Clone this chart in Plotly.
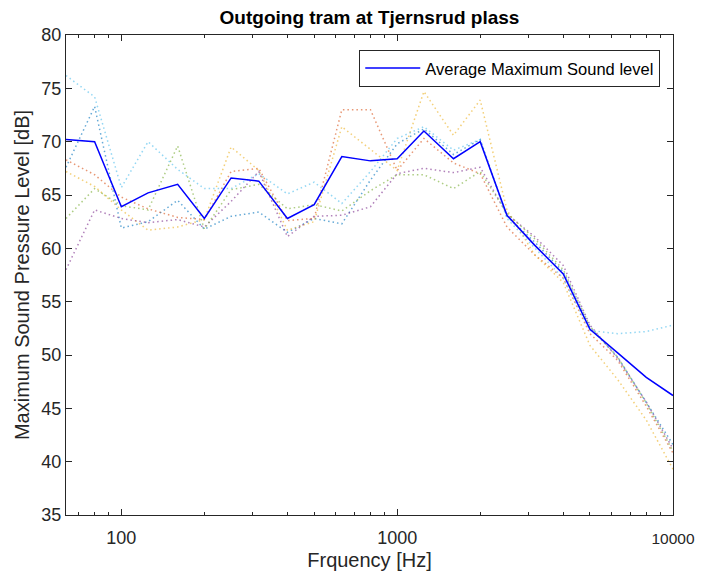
import plotly.graph_objects as go

freqs = [63, 80, 100, 125, 160, 200, 250, 315, 400, 500, 630, 800, 1000,
         1250, 1600, 2000, 2500, 3150, 4000, 5000, 6300, 8000, 10000]

avg_level = [70.2, 70.0, 63.9, 65.2, 66.0, 62.8, 66.6, 66.3, 62.8, 64.1, 68.6, 68.2, 68.4,
             71.0, 68.4, 70.0, 63.1, 60.3, 57.6, 52.4, 50.2, 47.9, 46.2]

run_blue = [67.6, 73.3, 61.9, 62.5, 64.5, 61.8, 63.0, 63.4, 61.5, 62.8, 62.3, 66.4, 69.8,
            71.2, 68.8, 70.2, 63.0, 60.6, 57.8, 52.6, 49.8, 45.6, 41.6]
run_orange = [68.3, 66.9, 64.8, 63.7, 62.9, 62.7, 67.2, 67.5, 62.6, 62.8, 73.0, 73.0, 67.3,
              70.3, 68.0, 67.0, 62.0, 59.4, 57.2, 52.0, 49.5, 45.2, 40.8]
run_yellow = [67.2, 65.8, 63.6, 61.7, 62.0, 62.7, 69.5, 67.3, 61.7, 62.5, 71.4, 69.3, 67.3,
              74.7, 70.6, 73.9, 63.6, 59.4, 56.8, 50.9, 47.7, 43.9, 39.3]
run_purple = [58.0, 63.6, 62.8, 62.4, 62.7, 62.0, 64.4, 67.2, 61.1, 63.0, 63.1, 63.9, 67.0,
              67.5, 67.1, 67.6, 63.2, 61.1, 58.4, 52.8, 49.7, 45.6, 41.2]
run_green = [62.8, 65.6, 64.0, 63.6, 69.6, 61.8, 65.5, 66.0, 63.7, 64.1, 63.5, 65.4, 66.9,
             66.9, 65.6, 67.2, 63.3, 60.9, 58.0, 52.7, 49.8, 45.5, 41.0]
run_cyan = [76.2, 74.2, 65.7, 70.0, 67.4, 65.6, 65.6, 67.0, 65.1, 66.2, 64.2, 67.2, 70.3,
            71.4, 69.2, 70.2, 62.8, 60.0, 57.2, 52.3, 52.0, 52.2, 52.8]

runs = [run_blue, run_orange, run_yellow, run_purple, run_green, run_cyan]
run_colors = ["#0072BD", "#D95319", "#EDB120", "#7E2F8E", "#77AC30", "#4DBEEE"]

x_tickvals = [100, 1000, 10000]
x_ticktext = ["100", "1000", "<span style='font-size:15.5px'>10000</span>"]
x_minor = [70, 80, 90, 200, 300, 400, 500, 600, 700, 800, 900,
           2000, 3000, 4000, 5000, 6000, 7000, 8000, 9000]
y_tickvals = [35, 40, 45, 50, 55, 60, 65, 70, 75, 80]

fig = go.Figure()
for vals, col in zip(runs, run_colors):
    fig.add_trace(go.Scatter(x=freqs, y=vals, mode="lines",
                             line=dict(color=col, width=1.5, dash="1.5px,3px"),
                             opacity=0.6, showlegend=False, hoverinfo="skip"))

fig.add_trace(go.Scatter(x=freqs, y=avg_level, mode="lines",
                         line=dict(color="#0000FF", width=1.5),
                         name="Average Maximum Sound level"))

axis_col = "#262626"
font_family = "Liberation Sans, Arial, sans-serif"

# the page adds an 8px body margin on every side, so the figure is 16px smaller
fig.update_layout(
    width=687, height=563,
    margin=dict(l=58, r=22, t=27, b=56, autoexpand=False),
    paper_bgcolor="white", plot_bgcolor="white",
    font=dict(family=font_family, color=axis_col, size=18),
    title=dict(text="<b>Outgoing tram at Tjernsrud plass</b>",
               font=dict(size=19, color="black"),
               x=(58 + 665) / 2 / 687, xanchor="center",
               y=1, yanchor="top", yref="container", pad=dict(t=3, b=0)),
    legend=dict(x=0.979, xanchor="right", y=0.969, yanchor="top",
                bordercolor=axis_col, borderwidth=1, bgcolor="white",
                itemwidth=55,
                font=dict(size=16.5, color="black")),
    showlegend=True,
)

fig.update_xaxes(
    type="log", range=[1.79934, 4.0], automargin=False,
    tickvals=x_tickvals, ticktext=x_ticktext, ticklabeloverflow="allow",
    ticks="inside", ticklen=6, tickcolor=axis_col, tickwidth=1,
    ticklabelstandoff=6,
    minor=dict(tickvals=x_minor, ticks="inside", ticklen=3, tickcolor=axis_col, showgrid=False),
    showline=True, linecolor=axis_col, linewidth=1, mirror="allticks",
    showgrid=False, zeroline=False,
    tickfont=dict(size=18, color=axis_col),
    title=dict(text="Frquency [Hz]", font=dict(size=20, color=axis_col), standoff=6),
)
fig.update_yaxes(
    range=[35, 80], tickvals=y_tickvals, automargin=False,
    ticks="inside", ticklen=6, tickcolor=axis_col, tickwidth=1,
    showline=True, linecolor=axis_col, linewidth=1, mirror="allticks",
    showgrid=False, zeroline=False,
    tickfont=dict(size=18, color=axis_col),
    title=dict(text="Maximum Sound Pressure Level [dB]", font=dict(size=20, color=axis_col), standoff=6),
)

fig.write_html("out.html")
